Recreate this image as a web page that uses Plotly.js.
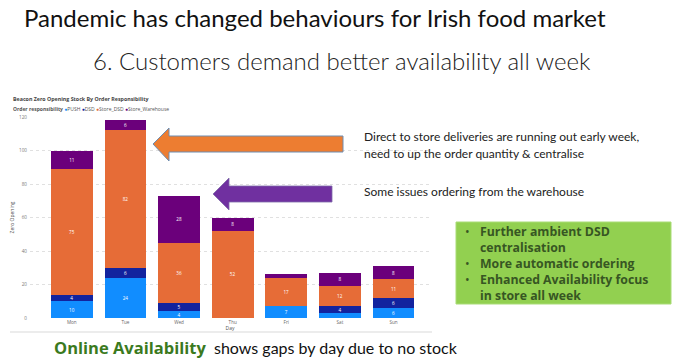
<!DOCTYPE html>
<html><head><meta charset="utf-8">
<script src="https://cdn.plot.ly/plotly-3.0.1.min.js"></script>
<style>html,body{margin:0;padding:0;background:#fff;}#chart{width:693px;height:363px;}</style>
</head><body><div id="chart"></div>
<script>
const days = ['Mon','Tue','Wed','Thu','Fri','Sat','Sun'];
const pushVals = [10,24,4,0,7,3,6];
const dsdVals = [4,6,5,0,0,4,6];
const storeDsdVals = [75,82,36,52,17,12,11];
const storeWarehouseVals = [11,6,28,8,2,8,8];
const seriesNames = ['PUSH','DSD','Store_DSD','Store_Warehouse'];
const seriesColors = ['#118DFF','#12239E','#E66C37','#6B007B'];
const yTicks = [0,20,40,60,80,100,120];

const W = 693, H = 363;
const M = {l:30, r:263, t:117, b:45};
const PW = W - M.l - M.r, PH = H - M.t - M.b;
const px = x => (x - M.l) / PW;
const py = y => (H - M.b - y) / PH;

const allVals = [pushVals, dsdVals, storeDsdVals, storeWarehouseVals];
const traces = allVals.map((v,i) => ({
  type:'bar', x:days, y:v, name:seriesNames[i],
  marker:{color:seriesColors[i], line:{width:0}},
  text:v.map(d => d >= 4 ? String(d) : ''),
  textposition:'inside', insidetextanchor:'middle', textangle:0, constraintext:'none',
  textfont:{color:'#ffffff', size:4.6, family:'Open Sans'},
  showlegend:false, hoverinfo:'skip'
}));

function arrowPath(tipX, tipY, headTop, headBot, baseX, shaftTop, shaftBot, endX){
  const P = (x,y)=> px(x)+','+py(y);
  return 'M'+P(tipX,tipY)+' L'+P(baseX,headTop)+' L'+P(baseX,shaftTop)+' L'+P(endX,shaftTop)+
         ' L'+P(endX,shaftBot)+' L'+P(baseX,shaftBot)+' L'+P(baseX,headBot)+' Z';
}

const shapes = [
  {type:'line', xref:'paper', yref:'paper', x0:px(10), x1:px(432), y0:py(332), y1:py(332), line:{color:'#e6e6e6', width:1.5}},
  {type:'path', xref:'paper', yref:'paper', path:arrowPath(153,144,128,161,169,136,152,343), fillcolor:'#ED7D31', line:{color:'#6F8DB0', width:1}},
  {type:'path', xref:'paper', yref:'paper', path:arrowPath(213,194,178,210,229,186,202,332), fillcolor:'#7030A0', line:{color:'#7F6AA8', width:0.8}},
  {type:'rect', xref:'paper', yref:'paper', x0:px(456), x1:px(671), y0:py(222), y1:py(304), fillcolor:'#92D050', line:{color:'#A9DC77', width:1}}
];

const legendText = '<b>Order responsibility</b> ' + seriesNames.map((n,i)=>'<span style="color:'+seriesColors[i]+'">●</span>'+n).join(' ');

const A = (x,y,text,font,extra) => Object.assign({xref:'paper', yref:'paper', x:px(x), y:py(y), text:text, showarrow:false, xanchor:'left', yanchor:'middle', font:font}, extra||{});
const boxFont = {family:'Open Sans', size:12.3, color:'#375623'};
const annotations = [
  A(22,17,'Pandemic has changed behaviours for Irish food market',{family:'Lato', size:24, color:'#111'}),
  A(342,60,'6. Customers demand better availability all week',{family:'Lato', size:24, color:'#222', weight:300},{xanchor:'center'}),
  A(11,99,'<b>Beacon Zero Opening Stock By Order Responsibility</b>',{family:'Open Sans', size:5.3, color:'#444'}),
  A(11,109,legendText,{family:'Open Sans', size:5, color:'#555'}),
  A(362,136,'Direct to store deliveries are running out early week,',{family:'Lato', size:12, color:'#222'}),
  A(362,153,'need to up the order quantity &amp; centralise',{family:'Lato', size:12, color:'#222'}),
  A(362,191,'Some issues ordering from the warehouse',{family:'Lato', size:12, color:'#222'}),
  A(463,231,'•',boxFont),
  A(478,231,'<b>Further ambient DSD</b>',boxFont),
  A(478,247,'<b>centralisation</b>',boxFont),
  A(463,263,'•',boxFont),
  A(478,263,'<b>More automatic ordering</b>',boxFont),
  A(463,279,'•',boxFont),
  A(478,279,'<b>Enhanced Availability focus</b>',boxFont),
  A(478,295,'<b>in store all week</b>',boxFont),
  A(52,347,'<b>Online Availability</b>',{family:'Open Sans', size:16.5, color:'#3B7A1E'}),
  A(212,347,'shows gaps by day due to no stock',{family:'Lato', size:16, color:'#111'})
];

const layout = {
  width:W, height:H, margin:M, paper_bgcolor:'#fff', plot_bgcolor:'#fff',
  barmode:'stack', bargap:0.22, showlegend:false,
  font:{family:'Open Sans', size:5, color:'#666'},
  xaxis:{type:'category', range:[-0.78,6.68], showgrid:false, zeroline:false, showline:false, ticks:'',
         tickfont:{size:4.6, color:'#666'}, ticklen:0,
         title:{text:'Day', font:{size:5, color:'#555'}, standoff:1}},
  yaxis:{range:[0,120], tickvals:yTicks, showgrid:true, gridcolor:'#d8d8d8', griddash:'dot', gridwidth:0.8,
         zeroline:false, showline:false, tickfont:{size:4.6, color:'#777'}, ticklabelstandoff:2,
         title:{text:'Zero Opening', font:{size:5, color:'#555'}, standoff:4}},
  shapes:shapes, annotations:annotations
};
Plotly.newPlot('chart', traces, layout, {staticPlot:true, displayModeBar:false});
</script></body></html>
